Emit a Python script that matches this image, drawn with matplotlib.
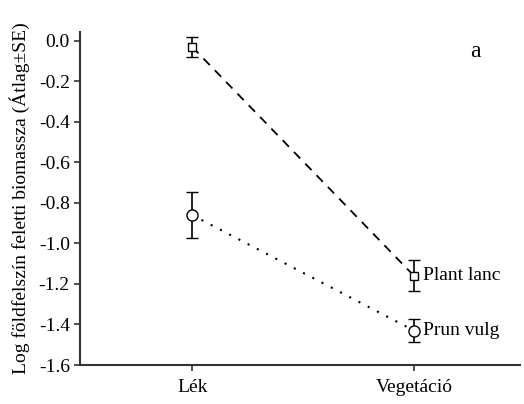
import matplotlib
matplotlib.use("Agg")
import matplotlib.pyplot as plt

plt.rcParams['font.family'] = ['Liberation Serif', 'DejaVu Serif']
plt.rcParams['font.size'] = 14

# group means and standard errors
groups = ['Lék', 'Vegetáció']
plant_lanc = [-0.03, -1.16]
plant_lanc_se = [0.05, 0.077]
prun_vulg = [-0.86, -1.43]
prun_vulg_se = [0.113, 0.055]
yticks = [0.0, -0.2, -0.4, -0.6, -0.8, -1.0, -1.2, -1.4, -1.6]

fig = plt.figure(figsize=(5.24, 4.04), dpi=100)
ax = fig.add_axes([0.153, 0.0965, 0.839, 0.824])

xpos = list(range(len(groups)))

ax.errorbar(xpos, plant_lanc, yerr=plant_lanc_se, fmt='s', color='black',
            ls=(0, (5, 4)), lw=1.3, ms=6, mfc='white', mec='black', mew=1.0,
            capsize=4, elinewidth=1.2, capthick=1.2)
ax.errorbar(xpos, prun_vulg, yerr=prun_vulg_se, fmt='o', color='black',
            ls=(0, (1, 4)), lw=1.5, ms=8, mfc='white', mec='black', mew=1.0,
            capsize=4, elinewidth=1.2, capthick=1.2)

ax.text(xpos[1] + 0.04, plant_lanc[1], 'Plant lanc', va='center', ha='left')
ax.text(xpos[1] + 0.04, prun_vulg[1], 'Prun vulg', va='center', ha='left')
ax.text(0.9, 0.925, 'a', transform=ax.transAxes, fontsize=17, ha='center')

ax.set_xlim(-0.505, 1.477)
ax.set_ylim(-1.6, 0.043)
ax.set_xticks(xpos)
ax.set_xticklabels(groups)
ax.set_yticks(yticks)
ax.set_yticklabels(['%.1f' % v for v in yticks])
ax.set_ylabel('Log földfelszín feletti biomassza (Átlag±SE)', labelpad=6)

for side in ['top', 'right']:
    ax.spines[side].set_visible(False)
for side in ['left', 'bottom']:
    ax.spines[side].set_linewidth(1.5)
    ax.spines[side].set_color('#333333')
ax.tick_params(direction='out', length=4, width=1.2, color='#333333')
ax.tick_params(axis='x', pad=6)

fig.savefig('out.png', dpi=100)
